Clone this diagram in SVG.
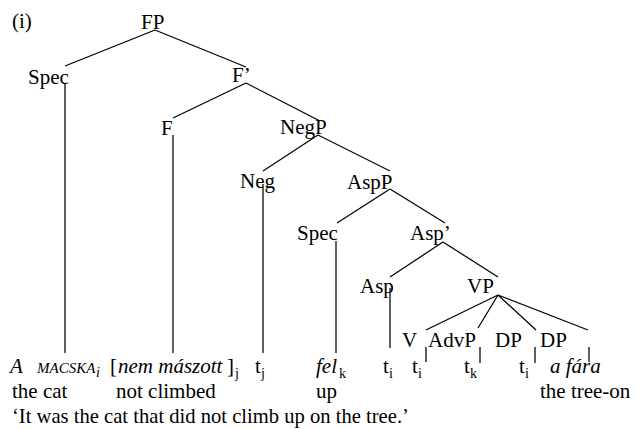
<svg xmlns="http://www.w3.org/2000/svg" width="638" height="429" viewBox="0 0 638 429">
  <style>
    .lbl text { font-family: "Liberation Serif", "Times New Roman", Times, "DejaVu Serif", serif; font-size: 21px; fill: #000; }
    .lbl .it { font-style: italic; }
    .lbl .sc { font-size: 15px; font-style: italic; }
    .lbl .sub { font-size: 14px; }
    .lbl .tr { font-size: 20.6px; }
    .edge { stroke: #000; stroke-width: 1.25; fill: none; }
  </style>
  <rect width="638" height="429" fill="#fff"/>

  <!-- tree branches -->
  <g id="connectors" class="edge">
    <line x1="155" y1="30" x2="65" y2="66"/>
    <line x1="155" y1="30" x2="246" y2="67"/>
    <line x1="65" y1="83" x2="65" y2="353"/>
    <line x1="246" y1="83" x2="173" y2="118"/>
    <line x1="246" y1="83" x2="320" y2="121"/>
    <line x1="173" y1="135" x2="173" y2="353"/>
    <line x1="318" y1="135" x2="263" y2="171"/>
    <line x1="318" y1="135" x2="390" y2="171"/>
    <line x1="263" y1="184" x2="263" y2="353"/>
    <line x1="390" y1="189" x2="337" y2="223"/>
    <line x1="390" y1="189" x2="445" y2="223"/>
    <line x1="336" y1="241" x2="336" y2="353"/>
    <line x1="443" y1="242" x2="390" y2="277"/>
    <line x1="443" y1="242" x2="498" y2="277"/>
    <line x1="390" y1="288" x2="390" y2="348"/>
    <line x1="498" y1="295" x2="426" y2="330"/>
    <line x1="498" y1="295" x2="478" y2="328"/>
    <line x1="498" y1="295" x2="536" y2="330"/>
    <line x1="498" y1="295" x2="588" y2="330"/>
    <line x1="426" y1="347" x2="426" y2="362"/>
    <line x1="480" y1="347" x2="480" y2="363"/>
    <line x1="535" y1="347" x2="535" y2="363"/>
    <line x1="589" y1="347" x2="589" y2="362"/>
  </g>

  <g class="lbl">
    <text x="12" y="28">(i)</text>

    <!-- node labels -->
    <g id="n-FP"><text x="141" y="29">FP</text></g>
    <g id="n-Spec1"><text x="28" y="84">Spec</text></g>
    <g id="n-Fbar"><text x="232" y="82">F’</text></g>
    <g id="n-F"><text x="161" y="135">F</text></g>
    <g id="n-NegP"><text x="280" y="134">NegP</text></g>
    <g id="n-Neg"><text x="240" y="188">Neg</text></g>
    <g id="n-AspP"><text x="347" y="189">AspP</text></g>
    <g id="n-Spec2"><text x="297" y="240">Spec</text></g>
    <g id="n-Aspbar"><text x="410" y="240">Asp’</text></g>
    <g id="n-Asp"><text x="360" y="293">Asp</text></g>
    <g id="n-VP"><text x="467" y="293">VP</text></g>
    <g id="n-V"><text x="402" y="347">V</text></g>
    <g id="n-AdvP"><text x="428" y="347">AdvP</text></g>
    <g id="n-DP1"><text x="495" y="347">DP</text></g>
    <g id="n-DP2"><text x="540" y="347">DP</text></g>

    <!-- terminal string -->
    <g id="terminals">
      <text x="10" y="373" class="it">A</text>
      <text x="37" y="373" class="sc">MACSKA</text>
      <text x="96" y="377" class="sub it">i</text>
      <text x="110" y="373">[</text>
      <text x="118" y="373" class="it">nem mászott</text>
      <text x="227" y="373">]</text>
      <text x="235" y="378" class="sub">j</text>
      <text x="255" y="373">t</text><text x="261" y="378" class="sub">j</text>
      <text x="316" y="373" class="it">fel</text><text x="339" y="378" class="sub">k</text>
      <text x="383" y="373">t</text><text x="389" y="378" class="sub">i</text>
      <text x="412" y="373">t</text><text x="418" y="378" class="sub">i</text>
      <text x="464" y="373">t</text><text x="470" y="378" class="sub">k</text>
      <text x="519" y="373">t</text><text x="525" y="378" class="sub">i</text>
      <text x="550" y="373" class="it">a fára</text>
    </g>

    <!-- glosses and translation -->
    <g id="glosses">
      <text x="12" y="398">the cat</text>
      <text x="116" y="398">not climbed</text>
      <text x="316" y="398">up</text>
      <text x="540" y="398">the tree-on</text>
      <text x="12" y="423" class="tr">‘It was the cat that did not climb up on the tree.’</text>
    </g>
  </g>
</svg>
